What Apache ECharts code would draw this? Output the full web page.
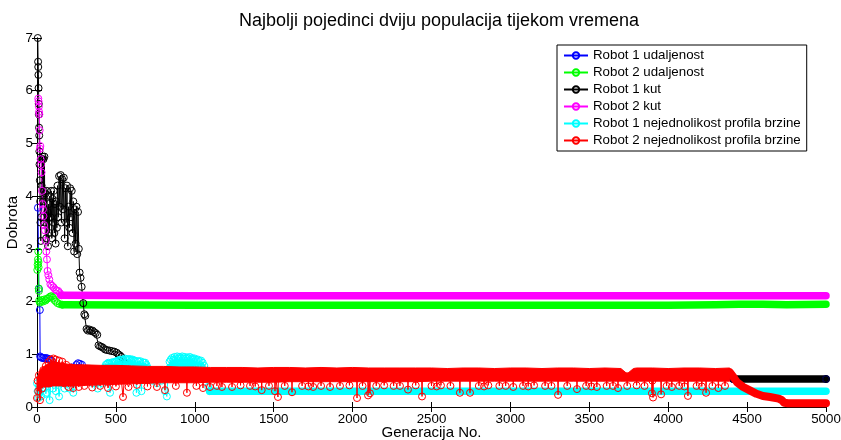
<!DOCTYPE html>
<html><head><meta charset="utf-8">
<script src="https://cdn.jsdelivr.net/npm/echarts@6/dist/echarts.min.js"></script>
<style>html,body{margin:0;padding:0;background:#fff}#c{width:841px;height:440px}</style>
</head><body><div id="c"></div>
<script>
const titleText = 'Najbolji pojedinci dviju populacija tijekom vremena';
const seriesNames = ['Robot 1 udaljenost','Robot 2 udaljenost','Robot 1 kut','Robot 2 kut','Robot 1 nejednolikost profila brzine','Robot 2 nejednolikost profila brzine'];
const seriesColors = ['#0000ff','#00ff00','#000000','#ff00ff','#00ffff','#ff0000'];

// Robot 1 udaljenost (blue) [generation, value]
const blueData = [[6,3.78],[12,2.24],[18,1.84],[20,0.96],[26,0.94],[34,0.93],[42,0.93],[50,0.92],[58,0.93],[66,0.92],[74,0.91],[82,0.9],[92,0.88],[110,0.8],[140,0.75],[180,0.72],[220,0.75],[250,0.8],[260,0.83],[272,0.82],[285,0.8],[300,0.7],[350,0.65],[600,0.6],[4400,0.6],[4412,0.53],[5000,0.53]];

// Robot 2 udaljenost (green)
const greenData = [[2,2.6],[4,2.7],[6,2.8],[8,2.95],[9,2.75],[10,2.65],[11,2.25],[12,2.2],[14,2.02],[18,1.98],[24,2.0],[30,2.03],[38,2.0],[46,2.04],[54,2.02],[62,2.05],[70,2.06],[78,2.08],[86,2.1],[94,2.1],[102,2.07],[110,2.03],[120,2.0],[130,1.97],[145,1.95],[160,1.94]];
const greenBand = [[160,1.94],[1000,1.93],[2000,1.93],[3000,1.93],[4000,1.93],[4300,1.94],[4450,1.95],[4600,1.95],[4750,1.94],[5000,1.95]];

// Robot 1 kut (black)
const blackData = [[5,7.0],[7,6.55],[8,6.45],[9,6.3],[10,6.05],[11,5.75],[12,5.55],[13,5.3],[14,5.15],[15,4.85],[16,4.6],[18,4.3],[20,3.9],[22,3.5],[24,3.15],[26,3.6],[29,4.2],[32,4.7],[35,4.75],[38,3.9],[41,4.7],[44,4.1],[47,4.75],[50,3.5],[54,4.05],[58,3.2],[62,4.1],[66,3.7],[70,3.05],[74,3.85],[78,3.3],[82,4.0],[86,3.6],[90,4.1],[94,3.2],[98,3.95],[102,3.5],[106,4.1],[110,3.3],[114,3.85],[118,3.1],[122,3.9],[126,3.4],[130,4.2],[135,3.6],[140,4.38],[145,3.8],[150,4.4],[155,3.5],[160,4.32],[165,3.75],[170,4.35],[175,3.2],[180,4.15],[185,3.5],[190,4.2],[195,3.05],[200,3.8],[205,3.4],[210,4.15],[215,3.6],[220,4.1],[225,3.3],[230,3.9],[235,2.95],[240,3.75],[245,3.1],[250,3.8],[255,2.9],[260,3.7],[265,3.0],[270,2.55],[276,2.45],[283,2.28],[293,1.97],[300,1.76],[306,1.73],[314,1.48],[322,1.45],[332,1.47],[342,1.44],[352,1.45],[362,1.42],[372,1.4],[382,1.37],[390,1.17],[400,1.15],[410,1.14],[420,1.12],[432,1.09],[445,1.08],[460,1.07],[475,1.06],[490,1.05],[505,1.03],[515,1.0],[525,0.98],[535,0.95],[545,0.9],[560,0.82],[580,0.7],[620,0.6],[4400,0.6],[4412,0.53],[5000,0.53]];
const blackBand = [[4412,0.53],[5000,0.53]];

// Robot 2 kut (magenta)
const magentaData = [[8,5.85],[10,5.8],[12,5.7],[13,5.6],[15,5.55],[17,5.25],[19,4.9],[21,4.95],[23,4.7],[26,4.6],[29,4.45],[32,4.1],[35,3.85],[38,3.75],[41,3.62],[45,3.45],[50,3.35],[55,3.15],[59,2.95],[63,2.8],[67,2.58],[72,2.5],[78,2.42],[85,2.33],[95,2.3],[105,2.27],[115,2.23],[125,2.21],[135,2.2],[145,2.16],[155,2.12]];
const magentaBand = [[150,2.12],[1000,2.11],[2500,2.11],[4000,2.11],[5000,2.11]];

// Robot 1 nejednolikost profila brzine (cyan)
const cyanData = [[0,0.45],[4,0.3],[8,0.17],[12,0.4],[16,0.28],[20,0.55],[26,0.2],[32,0.5],[40,0.35],[48,0.6],[56,0.25],[63,0.27],[70,0.5],[80,0.13],[90,0.55],[100,0.35],[110,0.6],[120,0.3],[130,0.55],[140,0.2],[150,0.45],[160,0.55],[175,0.35],[190,0.6],[205,0.35],[220,0.5],[230,0.27],[245,0.55],[258,0.66],[266,0.7],[274,0.65],[282,0.71],[290,0.66],[298,0.7],[306,0.65],[314,0.7],[322,0.66],[330,0.69],[340,0.6],[355,0.45],[370,0.6],[385,0.35],[400,0.62],[415,0.45],[430,0.75],
[436,0.8],[440,0.74],[444,0.82],[448,0.74],[452,0.84],[456,0.75],[460,0.83],[463,0.27],[466,0.76],[470,0.84],[474,0.75],[478,0.85],[482,0.75],[486,0.84],[490,0.76],[494,0.86],[498,0.75],[502,0.86],[506,0.76],[510,0.88],[514,0.76],[518,0.87],[522,0.76],[526,0.9],[530,0.77],[534,0.89],[538,0.76],[542,0.9],[546,0.77],[550,0.89],[554,0.76],[558,0.92],[562,0.77],[566,0.9],[570,0.76],[574,0.91],[578,0.77],[582,0.9],[586,0.76],[590,0.91],[594,0.77],[598,0.89],[602,0.76],[606,0.9],[610,0.77],[614,0.88],[618,0.76],[622,0.88],[626,0.76],[630,0.27],[634,0.77],[638,0.87],[642,0.76],[646,0.86],[650,0.76],[654,0.87],[658,0.76],[662,0.3],[666,0.76],[670,0.85],[674,0.75],[678,0.84],[682,0.75],[686,0.84],[690,0.74],[694,0.8],[702,0.74],[715,0.6],[730,0.5],[745,0.62],[760,0.45],[775,0.6],[790,0.5],[805,0.65],[811,0.3],[823,0.2],[832,0.72],[840,0.86],[844,0.75],[848,0.9],[852,0.76],[856,0.93],[860,0.76],[864,0.9],[868,0.77],[872,0.95],[876,0.76],[880,0.92],[884,0.77],[888,0.96],[892,0.76],[896,0.92],[900,0.77],[904,0.95],[908,0.76],[912,0.93],[916,0.77],[920,0.96],[924,0.76],[928,0.92],[932,0.77],[936,0.95],[940,0.76],[944,0.92],[948,0.77],[952,0.94],[956,0.76],[960,0.92],[964,0.77],[968,0.95],[972,0.76],[976,0.91],[980,0.77],[984,0.93],[988,0.76],[992,0.9],[996,0.77],[1000,0.92],[1005,0.76],[1010,0.89],[1015,0.76],[1020,0.9],[1025,0.76],[1030,0.87],[1035,0.76],[1040,0.88],[1045,0.76],[1050,0.84],[1060,0.78],[1070,0.55],[1085,0.38],[1095,0.3]];
const cyanBand = [[1095,0.3],[2000,0.3],[3000,0.3],[4000,0.3],[5000,0.3]];

// Robot 2 nejednolikost profila brzine (red): dense band edges + individual points
const redBandX    = [0,20,40,60,80,100,120,140,160,200,250,300,400,500,600,700,800,900,1000,1100,1200,1300,1400,1500,1600,1700,1800,1900,2000,2100,2200,2300,2400,2500,2600,2700,2800,2900,3000,3100,3200,3300,3400,3500,3600,3700,3740,3780,3800,3900,4000,4100,4200,4300,4390];
const redBandLow  = [0.3,0.35,0.38,0.38,0.38,0.4,0.4,0.4,0.4,0.4,0.4,0.41,0.42,0.43,0.44,0.45,0.46,0.46,0.46,0.47,0.47,0.47,0.47,0.47,0.48,0.48,0.48,0.48,0.48,0.48,0.48,0.48,0.48,0.49,0.49,0.49,0.49,0.49,0.49,0.49,0.49,0.49,0.49,0.49,0.49,0.49,0.49,0.49,0.49,0.49,0.49,0.49,0.49,0.49,0.49];
const redBandHigh = [0.55,0.7,0.76,0.8,0.82,0.84,0.84,0.84,0.83,0.81,0.8,0.8,0.79,0.79,0.78,0.77,0.77,0.76,0.76,0.75,0.75,0.75,0.74,0.75,0.75,0.74,0.75,0.74,0.75,0.74,0.74,0.74,0.74,0.74,0.73,0.74,0.74,0.73,0.74,0.74,0.73,0.74,0.74,0.73,0.74,0.73,0.63,0.73,0.74,0.74,0.73,0.74,0.74,0.73,0.74];
const redData = [[0,0.17],[4,0.5],[8,0.3],[12,0.6],[19,0.13],[25,0.55],[32,0.35],[40,0.7],[48,0.45],[56,0.78],[64,0.5],[72,0.85],[80,0.6],[88,0.9],[96,0.65],[104,0.92],[112,0.55],[120,0.9],[130,0.62],[140,0.88],[150,0.5],[160,0.86],[172,0.45],[185,0.8],[200,0.38],[215,0.75],[230,0.36],[250,0.7],[265,0.38],[285,0.72],[300,0.4],[330,0.7],[350,0.37],[380,0.7],[400,0.4],[430,0.7],[450,0.36],[480,0.7],[500,0.39],[530,0.65],[545,0.19],[555,0.6],[580,0.38],[600,0.6],
[630,0.58],[633,0.42],[636,0.58],[697,0.58],[700,0.39],[703,0.58],[757,0.58],[760,0.38],[763,0.58],[808,0.58],[811,0.32],[814,0.58],[877,0.58],[880,0.4],[883,0.58],[947,0.58],[950,0.27],[953,0.58],[1007,0.58],[1010,0.4],[1013,0.58],[1049,0.58],[1052,0.36],[1055,0.58],[1093,0.58],[1096,0.38],[1099,0.58],[1137,0.58],[1140,0.4],[1143,0.58],[1169,0.58],[1172,0.38],[1175,0.58],[1233,0.58],[1236,0.38],[1239,0.58],[1287,0.58],[1290,0.41],[1293,0.58],[1347,0.58],[1350,0.4],[1353,0.58],[1380,0.58],[1383,0.39],[1386,0.58],[1421,0.58],[1424,0.32],[1427,0.58],[1467,0.58],[1470,0.4],[1473,0.58],[1505,0.58],[1508,0.3],[1513,0.58],[1524,0.58],[1527,0.19],[1530,0.58],[1567,0.58],[1570,0.4],[1573,0.58],[1613,0.58],[1616,0.28],[1619,0.58],[1677,0.58],[1680,0.4],[1683,0.58],[1717,0.58],[1720,0.39],[1723,0.58],[1747,0.58],[1750,0.38],[1753,0.58],[1797,0.58],[1800,0.4],[1803,0.58],[1854,0.58],[1857,0.38],[1860,0.58],[1917,0.58],[1920,0.4],[1923,0.58],[1977,0.58],[1980,0.41],[1983,0.58],[2025,0.58],[2028,0.17],[2031,0.58],[2060,0.58],[2063,0.4],[2066,0.58],[2095,0.58],[2098,0.22],[2104,0.58],[2107,0.58],[2110,0.26],[2113,0.58],[2147,0.58],[2150,0.4],[2153,0.58],[2197,0.58],[2200,0.41],[2203,0.58],[2257,0.58],[2260,0.4],[2263,0.58],[2297,0.58],[2300,0.4],[2303,0.58],[2348,0.58],[2351,0.33],[2354,0.58],[2397,0.58],[2400,0.41],[2403,0.58],[2437,0.58],[2440,0.2],[2443,0.58],[2497,0.58],[2500,0.4],[2503,0.58],[2530,0.58],[2533,0.39],[2536,0.58],[2557,0.58],[2560,0.41],[2563,0.58],[2617,0.58],[2620,0.4],[2623,0.58],[2677,0.58],[2680,0.27],[2683,0.58],[2741,0.58],[2744,0.27],[2747,0.58],[2797,0.58],[2800,0.4],[2803,0.58],[2830,0.58],[2833,0.39],[2836,0.58],[2857,0.58],[2860,0.41],[2863,0.58],[2927,0.58],[2930,0.4],[2933,0.58],[2967,0.58],[2970,0.4],[2973,0.58],[3015,0.58],[3018,0.38],[3021,0.58],[3077,0.58],[3080,0.4],[3083,0.58],[3110,0.58],[3113,0.39],[3116,0.58],[3147,0.58],[3150,0.41],[3153,0.58],[3217,0.58],[3220,0.4],[3223,0.58],[3257,0.58],[3260,0.4],[3263,0.58],[3299,0.58],[3302,0.23],[3305,0.58],[3357,0.58],[3360,0.4],[3363,0.58],[3419,0.58],[3422,0.34],[3425,0.58],[3477,0.58],[3480,0.4],[3483,0.58],[3510,0.58],[3513,0.39],[3516,0.58],[3545,0.58],[3548,0.38],[3551,0.58],[3607,0.58],[3610,0.4],[3613,0.58],[3647,0.58],[3650,0.4],[3653,0.58],[3679,0.58],[3682,0.36],[3685,0.58],[3737,0.58],[3740,0.4],[3743,0.58],[3797,0.58],[3800,0.41],[3803,0.58],[3847,0.58],[3850,0.4],[3853,0.58],[3894,0.58],[3897,0.26],[3900,0.5],[3904,0.18],[3907,0.58],[3952,0.58],[3955,0.24],[3958,0.58],[3987,0.58],[3990,0.4],[3993,0.58],[4020,0.58],[4023,0.38],[4026,0.58],[4067,0.58],[4070,0.4],[4073,0.58],[4100,0.58],[4103,0.39],[4106,0.58],[4122,0.58],[4125,0.21],[4128,0.58],[4177,0.58],[4180,0.4],[4183,0.58],[4210,0.58],[4213,0.39],[4216,0.58],[4237,0.58],[4240,0.27],[4243,0.58],[4277,0.58],[4280,0.4],[4283,0.58],[4315,0.58],[4318,0.36],[4321,0.58],[4357,0.58],[4360,0.4],[4363,0.58],[4390,0.62]];
const redTail = [[4390,0.66],[4410,0.58],[4436,0.47],[4475,0.38],[4520,0.31],[4560,0.25],[4600,0.21],[4645,0.19],[4700,0.16],[4720,0.13],[4735,0.08],[4760,0.07],[5000,0.07]];

const FONT = "'Liberation Sans', Arial, Helvetica, sans-serif";

function pts(i, data, z) {
  return {
    type: 'line', name: seriesNames[i], data: data, z: z || 2,
    symbol: 'circle', symbolSize: 7, showSymbol: true,
    lineStyle: { color: seriesColors[i], width: 1 },
    itemStyle: { color: 'rgba(255,255,255,0)', borderColor: seriesColors[i], borderWidth: 1 },
    emphasis: { disabled: true }, silent: true, animation: false
  };
}
function band(i, data, w, z) {
  return {
    type: 'line', name: '_band' + i, data: data, symbol: 'none', z: z || 2,
    lineStyle: { color: seriesColors[i], width: w || 7.5, cap: 'round', join: 'round' },
    emphasis: { disabled: true }, silent: true, animation: false
  };
}

const redArea = {
  type: 'custom', name: '_redArea', silent: true, animation: false, z: 3,
  data: redBandX.map((x, k) => [x, redBandLow[k], redBandHigh[k]]),
  encode: { x: 0, y: [1, 2] },
  renderItem: function (params, api) {
    if (params.dataIndex !== 0) return;
    const top = [], bot = [];
    for (let k = 0; k < redBandX.length; k++) {
      top.push(api.coord([redBandX[k], redBandHigh[k]]));
      bot.push(api.coord([redBandX[k], redBandLow[k]]));
    }
    return { type: 'polygon', shape: { points: top.concat(bot.reverse()) },
      style: { fill: seriesColors[5], stroke: seriesColors[5], lineWidth: 1 } };
  }
};

const axisCommon = {
  axisLine: { show: true, lineStyle: { color: '#000', width: 1 } },
  axisTick: { show: true, inside: true, length: 5, lineStyle: { color: '#000' } },
  splitLine: { show: false }
};
const fmt = v => String(v);

const chart = echarts.init(document.getElementById('c'), null, { renderer: 'canvas' });
chart.setOption({
  animation: false,
  backgroundColor: '#fff',
  textStyle: { fontFamily: FONT },
  title: { text: titleText, left: 434, top: 7, textAlign: 'center',
    textStyle: { fontSize: 18, fontWeight: 'normal', color: '#000', fontFamily: FONT } },
  grid: { left: 37, right: 15, top: 38, bottom: 33, containLabel: false, outerBoundsMode: 'none' },
  legend: {
    data: seriesNames, orient: 'vertical', left: 557, top: 45, z: 10,
    backgroundColor: '#fff', borderColor: '#000', borderWidth: 1, borderRadius: 0,
    padding: [4, 6], itemWidth: 24, itemHeight: 8, itemGap: 4,
    textStyle: { fontSize: 13.3, color: '#000', fontFamily: FONT },
    selectedMode: false
  },
  xAxis: [
    Object.assign({ type: 'value', min: 0, max: 5000, interval: 500, position: 'bottom',
      name: 'Generacija No.', nameLocation: 'middle', nameGap: 18, nameMoveOverlap: false,
      nameTextStyle: { fontSize: 15, color: '#000', fontFamily: FONT },
      axisLabel: { fontSize: 13.3, color: '#000', margin: 6, fontFamily: FONT, formatter: fmt } }, axisCommon),
    Object.assign({ type: 'value', min: 0, max: 5000, interval: 500, position: 'top',
      axisLabel: { show: false } }, axisCommon)
  ],
  yAxis: [
    Object.assign({ type: 'value', min: 0, max: 7, interval: 1, position: 'left',
      name: 'Dobrota', nameLocation: 'middle', nameGap: 17, nameMoveOverlap: false,
      nameTextStyle: { fontSize: 15, color: '#000', fontFamily: FONT },
      axisLabel: { fontSize: 13.3, color: '#000', margin: 4, fontFamily: FONT, formatter: fmt } }, axisCommon),
    Object.assign({ type: 'value', min: 0, max: 7, interval: 1, position: 'right',
      axisLabel: { show: false } }, axisCommon)
  ],
  series: [
    pts(0, blueData),
    pts(1, greenData), band(1, greenBand),
    pts(2, blackData), band(2, blackBand),
    pts(3, magentaData), band(3, magentaBand),
    pts(4, cyanData), band(4, cyanBand),
    redArea,
    pts(5, redData, 3), band(5, redTail, 8, 3)
  ]
});
</script>
</body></html>
